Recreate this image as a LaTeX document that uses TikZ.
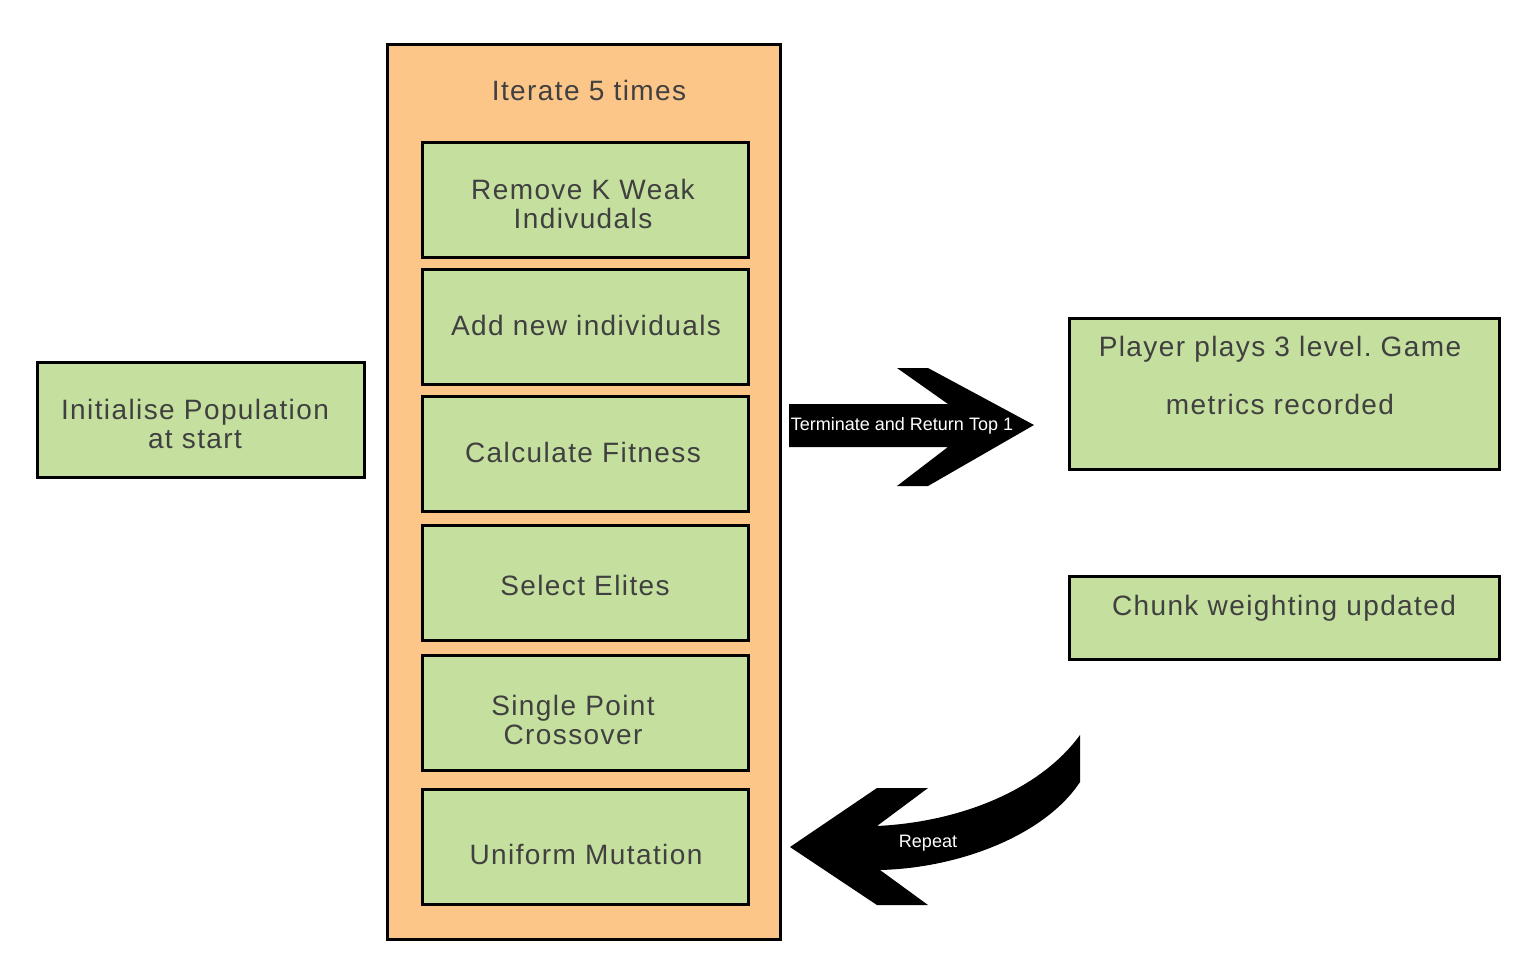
\documentclass[tikz,border=0pt]{standalone}
\usepackage{fontspec}
\setmainfont{Liberation Sans}
\newfontfamily\labfont[LetterSpace=5]{Liberation Sans}
\definecolor{orangefill}{RGB}{252,198,137}
\definecolor{greenfill}{RGB}{197,223,158}
\definecolor{txtgray}{RGB}{64,64,64}
\frenchspacing
\begin{document}
\begin{tikzpicture}[x=1pt,y=-1pt,
  box/.style={draw=black,line width=3pt,fill=greenfill,rectangle,inner sep=0pt},
  outerbox/.style={draw=black,line width=3pt,fill=orangefill,rectangle,inner sep=0pt},
  txt/.style={text=txtgray,font=\labfont\fontsize{28}{29}\selectfont,align=center,inner sep=0pt},
  arrowtxt/.style={text=white,font=\fontsize{18}{20}\selectfont,inner sep=0pt}]
\useasboundingbox (0,0) rectangle (1534,974);
% outer container
\node[outerbox,minimum width=393pt,minimum height=894pt] (outer) at (583.5,492) {};
\node[txt] (iter) at (589,90) {Iterate 5 times};
% inner steps
\node[box,minimum width=326pt,minimum height=115pt] (b1) at (585,199.5) {};
\node[box,minimum width=326pt,minimum height=115pt] (b2) at (585,326.5) {};
\node[box,minimum width=326pt,minimum height=115pt] (b3) at (585,453.5) {};
\node[box,minimum width=326pt,minimum height=115pt] (b4) at (585,582.5) {};
\node[box,minimum width=326pt,minimum height=115pt] (b5) at (585,712.5) {};
\node[box,minimum width=326pt,minimum height=115pt] (b6) at (585,846.5) {};
\node[txt] (t1) at (583,203.5) {Remove K Weak\\Indivudals};
\node[txt] (t2) at (586,325) {Add new individuals};
\node[txt] (t3) at (583,452) {Calculate Fitness};
\node[txt] (t4) at (585,585) {Select Elites};
\node[txt] (t5) at (573,719.5) {Single Point\\Crossover};
\node[txt] (t6) at (586,854) {Uniform Mutation};
% left
\node[box,minimum width=327pt,minimum height=115pt] (init) at (200.5,419.5) {};
\node[txt] (tinit) at (195,423.5) {Initialise Population\\at start};
% right
\node[box,minimum width=430pt,minimum height=151pt] (player) at (1284,393.5) {};
\node[txt] (tp1) at (1280,349) {Player plays 3 level. Game};
\node[txt] (tp2) at (1280,404) {metrics recorded};
\node[box,minimum width=430pt,minimum height=83pt] (chunk) at (1284,617.5) {};
\node[txt] (tchunk) at (1284,608) {Chunk weighting updated};
% straight block arrow
\fill[black] (789,404) -- (948,404) -- (897,368) -- (928,368) -- (1034,425)
  -- (928,486) -- (897,486) -- (948,447) -- (789,447) -- cycle;
\node[arrowtxt] (term) at (902,425.5) {Terminate and Return Top 1};
% curved block arrow
\fill[black] (790,847) -- (877,788) -- (928,788) -- (877,826)
  .. controls (960,822) and (1040,790) .. (1080,735)
  -- (1080,782)
  .. controls (1045,835) and (960,868) .. (880,870)
  -- (928,905) -- (877,905) -- cycle;
\node[arrowtxt] (rep) at (928,843.5) {Repeat};
\end{tikzpicture}
\end{document}
